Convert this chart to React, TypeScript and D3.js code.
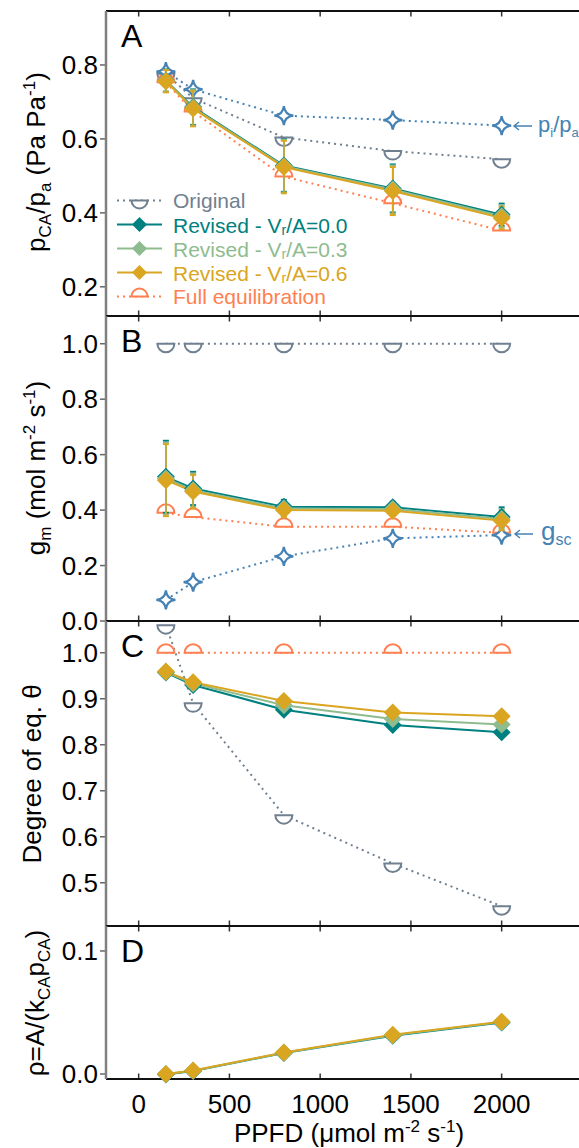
import React from 'react';
import * as d3 from 'd3';

const ppfd = [150, 300, 800, 1400, 2000];
const xTickValues = [0, 500, 1000, 1500, 2000];

// Panel A: pCA/pa
const aStar = [0.782, 0.734, 0.663, 0.651, 0.636];
const aOriginal = [0.776, 0.71, 0.604, 0.567, 0.545];
const aFull = [0.753, 0.674, 0.498, 0.426, 0.352];
const aRev00 = [0.758, 0.686, 0.528, 0.466, 0.395];
const aRev03 = [0.757, 0.684, 0.526, 0.463, 0.391];
const aRev06 = [0.756, 0.682, 0.524, 0.459, 0.386];
const aErr = [0.03, 0.048, 0.071, 0.065, 0.03];
const aTicks = [0.2, 0.4, 0.6, 0.8];

// Panel B: gm
const bStar = [0.076, 0.14, 0.233, 0.298, 0.31];
const bOriginal = [1.0, 1.0, 1.0, 1.0, 1.0];
const bFull = [0.39, 0.375, 0.34, 0.34, 0.318];
const bRev00 = [0.52, 0.478, 0.412, 0.41, 0.375];
const bRev03 = [0.514, 0.472, 0.406, 0.404, 0.368];
const bRev06 = [0.508, 0.467, 0.4, 0.398, 0.362];
const bErr = [0.13, 0.06, 0.025, 0.02, 0.035];
const bTicks = [0, 0.2, 0.4, 0.6, 0.8, 1.0];

// Panel C: degree of equilibrium
const cOriginal = [1.06, 0.89, 0.647, 0.542, 0.449];
const cFull = [1, 1, 1, 1, 1];
const cRev00 = [0.957, 0.93, 0.876, 0.843, 0.827];
const cRev03 = [0.958, 0.933, 0.886, 0.856, 0.844];
const cRev06 = [0.959, 0.936, 0.895, 0.87, 0.862];
const cTicks = [0.5, 0.6, 0.7, 0.8, 0.9, 1.0];

// Panel D: rho
const dRev00 = [-0.0005, 0.0025, 0.017, 0.031, 0.0418];
const dRev03 = [0, 0.0027, 0.0173, 0.0315, 0.0422];
const dRev06 = [0, 0.0028, 0.0175, 0.032, 0.0425];
const dErr = [0, 0, 0.0008, 0.0025, 0.0015];
const dTicks = [0, 0.1];

const C_ORIG = '#708090';
const C_R0 = '#008080';
const C_R3 = '#8fbc8f';
const C_R6 = '#daa520';
const C_FULL = '#ff7f50';
const C_STAR = '#4682b4';
const FONT = '"Liberation Sans", Arial, Helvetica, sans-serif';

const halfDown = (r: number) => `M${-r},0L${r},0A${r},${r} 0 0 1 ${-r},0Z`;
const halfUp = (r: number) => `M${-r},0L${r},0A${r},${r} 0 0 0 ${-r},0Z`;
const diamond = (r: number) => `M0,${-r}L${r},0L0,${r}L${-r},0Z`;
const star = (r: number) => {
  const c = 0.9;
  return `M0,${-r}Q${c},${-c} ${r},0Q${c},${c} 0,${r}Q${-c},${c} ${-r},0Q${-c},${-c} 0,${-r}Z`;
};
const arrowPath = (x0: number, y0: number) =>
  `M${x0 + 18},${y0}L${x0},${y0}M${x0 + 5},${y0 - 4}L${x0},${y0}L${x0 + 5},${y0 + 4}`;

type PanelDef = {
  key: string;
  top: number;
  bottom: number;
  domain: [number, number];
  ticks: number[];
};

const panelDefs: PanelDef[] = [
  { key: 'A', top: 11, bottom: 316, domain: [0.121, 0.946], ticks: aTicks },
  { key: 'B', top: 316, bottom: 621, domain: [0, 1.1], ticks: bTicks },
  { key: 'C', top: 621, bottom: 926, domain: [0.406, 1.069], ticks: cTicks },
  { key: 'D', top: 926, bottom: 1079, domain: [-0.00407, 0.1203], ticks: dTicks },
];

export default function App() {
  const W = 579;
  const H = 1148;
  const x = d3.scaleLinear().domain([-180, 2500]).range([106, 592.4]);
  const ys = panelDefs.map((p) =>
    d3.scaleLinear().domain(p.domain).range([p.bottom, p.top])
  );

  const mkLine = (y: d3.ScaleLinear<number, number>) =>
    d3
      .line<number>()
      .x((_, i) => x(ppfd[i]))
      .y((v) => y(v));

  const dotted = (vals: number[], y: d3.ScaleLinear<number, number>, color: string, k: string) => (
    <path key={k} d={mkLine(y)(vals) || ''} fill="none" stroke={color} strokeWidth={2} strokeDasharray="2 4" />
  );

  const solid = (vals: number[], y: d3.ScaleLinear<number, number>, color: string, k: string) => (
    <path key={k} d={mkLine(y)(vals) || ''} fill="none" stroke={color} strokeWidth={2} />
  );

  const markers = (
    vals: number[],
    y: d3.ScaleLinear<number, number>,
    d: string,
    fill: string,
    stroke: string,
    sw: number,
    k: string
  ) => (
    <g key={k}>
      {vals.map((v, i) => (
        <path
          key={i}
          d={d}
          transform={`translate(${x(ppfd[i])},${y(v)})`}
          fill={fill}
          stroke={stroke}
          strokeWidth={sw}
        />
      ))}
    </g>
  );

  const errBars = (vals: number[], errs: number[], y: d3.ScaleLinear<number, number>, color: string, k: string) => (
    <g key={k} stroke={color} strokeWidth={1.6}>
      {vals.map((v, i) => {
        if (!errs[i]) return null;
        const cx = x(ppfd[i]);
        const y1 = y(v + errs[i]);
        const y2 = y(v - errs[i]);
        return (
          <g key={i}>
            <line x1={cx} x2={cx} y1={y1} y2={y2} />
            <line x1={cx - 3} x2={cx + 3} y1={y1} y2={y1} strokeWidth={2} />
            <line x1={cx - 3} x2={cx + 3} y1={y2} y2={y2} strokeWidth={2} />
          </g>
        );
      })}
    </g>
  );

  const revised = (
    y: d3.ScaleLinear<number, number>,
    r0: number[],
    r3: number[],
    r6: number[],
    err: number[] | null,
    k: string
  ) => (
    <g key={k}>
      {err && errBars(r0, err, y, C_R0, 'e0')}
      {err && errBars(r3, err, y, C_R3, 'e3')}
      {err && errBars(r6, err, y, C_R6, 'e6')}
      {solid(r0, y, C_R0, 'l0')}
      {solid(r3, y, C_R3, 'l3')}
      {solid(r6, y, C_R6, 'l6')}
      {markers(r0, y, diamond(9), C_R0, 'none', 0, 'm0')}
      {markers(r3, y, diamond(9), C_R3, 'none', 0, 'm3')}
      {markers(r6, y, diamond(9), C_R6, 'none', 0, 'm6')}
    </g>
  );

  const [yA, yB, yC, yD] = ys;

  const legendRows = [
    { label: 'Original', color: C_ORIG, kind: 'orig' },
    { label: '0.0', color: C_R0, kind: 'rev' },
    { label: '0.3', color: C_R3, kind: 'rev' },
    { label: '0.6', color: C_R6, kind: 'rev' },
    { label: 'Full equilibration', color: C_FULL, kind: 'full' },
  ];

  return (
    <svg
      width={W}
      height={H}
      style={{ position: 'absolute', left: 0, top: 0, background: '#fff' }}
      fontFamily={FONT}
    >
      <rect x={0} y={0} width={W} height={H} fill="#fff" />

      {/* frames, ticks */}
      {panelDefs.map((p, pi) => {
        const y = ys[pi];
        return (
          <g key={p.key}>
            {xTickValues.concat([2500]).map((t) => (
              <g key={t} stroke="#333" strokeWidth={1.5}>
                <line x1={x(t)} x2={x(t)} y1={p.top} y2={p.top + 5.5} />
                <line x1={x(t)} x2={x(t)} y1={p.bottom} y2={p.bottom - 5.5} />
              </g>
            ))}
            {p.ticks.map((t) => (
              <g key={t}>
                <line x1={100} x2={106} y1={y(t)} y2={y(t)} stroke="#666" strokeWidth={1.5} />
                <text x={98} y={y(t)} textAnchor="end" dominantBaseline="central" fontSize={26} fill="#000">
                  {t.toFixed(1)}
                </text>
              </g>
            ))}
            <line x1={106} x2={600} y1={p.top} y2={p.top} stroke="#111" strokeWidth={2} />
            <line x1={106} x2={600} y1={p.bottom} y2={p.bottom} stroke="#111" strokeWidth={2} />
            <line x1={106} x2={106} y1={p.top} y2={p.bottom} stroke="#808080" strokeWidth={2.5} />
            <text x={121} y={p.top + 36} fontSize={32} fill="#000">
              {p.key}
            </text>
          </g>
        );
      })}

      {/* Panel A */}
      {dotted(aOriginal, yA, C_ORIG, 'aol')}
      {dotted(aFull, yA, C_FULL, 'afl')}
      {dotted(aStar, yA, C_STAR, 'asl')}
      {markers(aOriginal, yA, halfDown(8.5), '#fff', C_ORIG, 2, 'aom')}
      {markers(aFull, yA, halfUp(8.5), '#fff', C_FULL, 2, 'afm')}
      {markers(aStar, yA, star(9.5), '#fff', C_STAR, 2.2, 'asm')}
      {revised(yA, aRev00, aRev03, aRev06, aErr, 'arev')}

      {/* Panel B */}
      {dotted(bOriginal, yB, C_ORIG, 'bol')}
      {dotted(bFull, yB, C_FULL, 'bfl')}
      {dotted(bStar, yB, C_STAR, 'bsl')}
      {markers(bOriginal, yB, halfDown(8.5), '#fff', C_ORIG, 2, 'bom')}
      {markers(bFull, yB, halfUp(8.5), '#fff', C_FULL, 2, 'bfm')}
      {markers(bStar, yB, star(9.5), '#fff', C_STAR, 2.2, 'bsm')}
      {revised(yB, bRev00, bRev03, bRev06, bErr, 'brev')}

      {/* Panel C */}
      {dotted(cOriginal, yC, C_ORIG, 'col')}
      {dotted(cFull, yC, C_FULL, 'cfl')}
      {markers(cOriginal, yC, halfDown(8.5), '#fff', C_ORIG, 2, 'com')}
      {markers(cFull, yC, halfUp(8.5), '#fff', C_FULL, 2, 'cfm')}
      {revised(yC, cRev00, cRev03, cRev06, null, 'crev')}

      {/* Panel D */}
      {revised(yD, dRev00, dRev03, dRev06, dErr, 'drev')}

      {/* Legend */}
      {legendRows.map((r, i) => {
        const ly = 200.5 + i * 24;
        return (
          <g key={i}>
            {r.kind === 'rev' ? (
              <>
                <line x1={117} x2={162} y1={ly} y2={ly} stroke={r.color} strokeWidth={2} />
                <path d={diamond(7.5)} transform={`translate(139.5,${ly})`} fill={r.color} />
              </>
            ) : (
              <>
                <line x1={117} x2={162} y1={ly} y2={ly} stroke={r.color} strokeWidth={2} strokeDasharray="2 4" />
                <path
                  d={r.kind === 'orig' ? halfDown(8) : halfUp(8)}
                  transform={`translate(139.5,${ly})`}
                  fill="#fff"
                  stroke={r.color}
                  strokeWidth={2}
                />
              </>
            )}
            <text x={173} y={ly} dominantBaseline="central" fontSize={21} fill={r.color}>
              {r.kind === 'rev' ? (
                <>
                  <tspan>Revised - V</tspan>
                  <tspan fontSize={14} dy={5}>r</tspan>
                  <tspan dy={-5}>/A={r.label}</tspan>
                </>
              ) : (
                r.label
              )}
            </text>
          </g>
        );
      })}

      {/* Annotations */}
      <path d={arrowPath(514, 126)} fill="none" stroke={C_STAR} strokeWidth={1.5} />
      <text x={538} y={132} fontSize={22} fill={C_STAR}>
        <tspan>p</tspan>
        <tspan fontSize={13} dy={5}>i</tspan>
        <tspan dy={-5}>/p</tspan>
        <tspan fontSize={13} dy={5}>a</tspan>
      </text>
      <path d={arrowPath(515, 534)} fill="none" stroke={C_STAR} strokeWidth={1.5} />
      <text x={541} y={540} fontSize={26} fill={C_STAR}>
        <tspan>g</tspan>
        <tspan fontSize={16} dy={5}>sc</tspan>
      </text>

      {/* X axis */}
      {xTickValues.map((t) => (
        <text key={t} x={x(t)} y={1113} textAnchor="middle" fontSize={26} fill="#000">
          {t}
        </text>
      ))}
      <text x={349} y={1142} textAnchor="middle" fontSize={26} fill="#000">
        <tspan>PPFD (μmol m</tspan>
        <tspan fontSize={17} dy={-10}>-2</tspan>
        <tspan dy={10}> s</tspan>
        <tspan fontSize={17} dy={-10}>-1</tspan>
        <tspan dy={10}>)</tspan>
      </text>

      {/* Y titles */}
      <text transform="translate(45,162) rotate(-90)" textAnchor="middle" fontSize={26} fill="#000">
        <tspan>p</tspan>
        <tspan fontSize={17} dy={6}>CA</tspan>
        <tspan dy={-6}>/p</tspan>
        <tspan fontSize={17} dy={6}>a</tspan>
        <tspan dy={-6}> (Pa Pa</tspan>
        <tspan fontSize={17} dy={-10}>-1</tspan>
        <tspan dy={10}>)</tspan>
      </text>
      <text transform="translate(45,468) rotate(-90)" textAnchor="middle" fontSize={26} fill="#000">
        <tspan>g</tspan>
        <tspan fontSize={17} dy={6}>m</tspan>
        <tspan dy={-6}> (mol m</tspan>
        <tspan fontSize={17} dy={-10}>-2</tspan>
        <tspan dy={10}> s</tspan>
        <tspan fontSize={17} dy={-10}>-1</tspan>
        <tspan dy={10}>)</tspan>
      </text>
      <text transform="translate(41,774) rotate(-90)" textAnchor="middle" fontSize={26} fill="#000">
        Degree of eq. θ
      </text>
      <text transform="translate(44,1003) rotate(-90)" textAnchor="middle" fontSize={26} fill="#000">
        <tspan>ρ=A/(k</tspan>
        <tspan fontSize={17} dy={6}>CA</tspan>
        <tspan dy={-6}>p</tspan>
        <tspan fontSize={17} dy={6}>CA</tspan>
        <tspan dy={-6}>)</tspan>
      </text>
    </svg>
  );
}
